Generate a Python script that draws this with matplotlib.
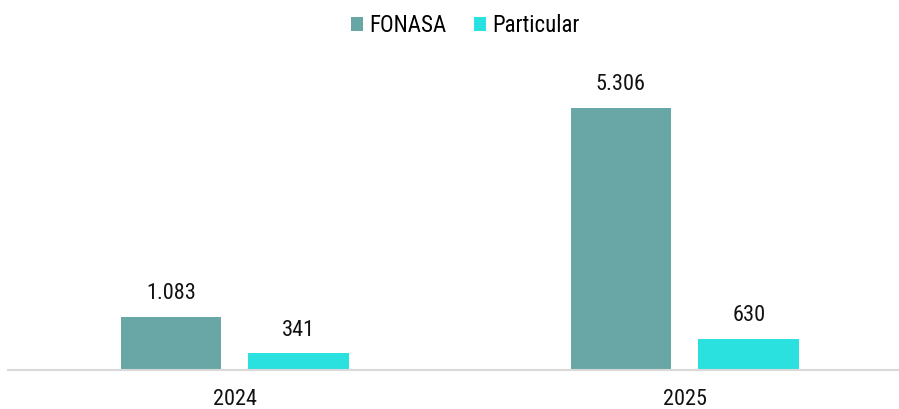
import numpy as np
import matplotlib.pyplot as plt

years = ["2024", "2025"]
fonasa = [1083, 5306]
particular = [341, 630]
fonasa_labels = ["1.083", "5.306"]
particular_labels = ["341", "630"]

plt.rcParams['font.family'] = ['Liberation Sans Narrow', 'Roboto Condensed', 'Archivo Narrow',
                               'Liberation Sans', 'DejaVu Sans']

fig = plt.figure(figsize=(8.99, 4.09), dpi=100)
# axes area in pixels: left 8, right 899, baseline at y=370, top at y=50
ax = fig.add_axes([8 / 899, 39 / 409, 891 / 899, 320 / 409])

x = np.arange(len(years))
w = 0.224
off = 0.142
b1 = ax.bar(x - off, fonasa, w, color="#68a7a6", label="FONASA")
b2 = ax.bar(x + off, particular, w, color="#2ae1e0", label="Particular")

for bars, labs in [(b1, fonasa_labels), (b2, particular_labels)]:
    for rect, lab in zip(bars, labs):
        ax.annotate(lab, (rect.get_x() + rect.get_width() / 2, rect.get_height()),
                    xytext=(0, 9), textcoords="offset points",
                    ha="center", va="bottom", fontsize=16, color="#111111")

ax.set_xlim(-0.504, 1.476)
ax.set_ylim(0, 5306 * 320 / 262)
ax.set_xticks(x)
ax.set_xticklabels(years, fontsize=16, color="#111111")
ax.tick_params(axis="x", length=0, pad=14)
ax.set_yticks([])
for s in ["top", "right", "left"]:
    ax.spines[s].set_visible(False)
ax.spines["bottom"].set_color("#d9d9d9")
ax.spines["bottom"].set_linewidth(1.5)

fig.legend(loc="upper center", bbox_to_anchor=(465 / 899, 1.015), ncol=2, frameon=False,
           fontsize=16.5, handlelength=0.55, handleheight=0.55, handletextpad=0.25,
           columnspacing=1.2)

fig.savefig("out.png", dpi=100)
